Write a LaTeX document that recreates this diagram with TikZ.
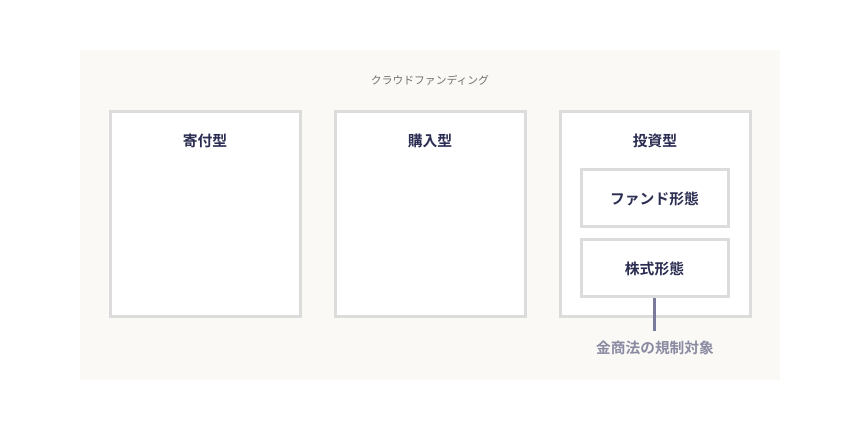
\documentclass[tikz,border=0pt]{standalone}
\usepackage{fontspec}
\newfontfamily\jp{Noto Sans CJK JP}
\newfontfamily\jpb{Noto Sans CJK JP Bold}
\definecolor{panel}{HTML}{FAF9F6}
\definecolor{boxline}{HTML}{DCDCDC}
\definecolor{navy}{HTML}{2B2D52}
\definecolor{grayt}{HTML}{707070}
\definecolor{conn}{HTML}{7A7A9A}
\definecolor{notet}{HTML}{8A8AA2}
\begin{document}
\begin{tikzpicture}[x=1pt,y=-1pt,
  outerbox/.style={draw=boxline,line width=3pt,fill=white},
  lbl/.style={font=\jpb\fontsize{14.8}{16}\selectfont,text=navy,inner sep=0pt},
]
\useasboundingbox[fill=white] (0,0) rectangle (860,430);
\fill[panel] (80,50) rectangle (780,380);
\node[font=\jp\fontsize{10.8}{12}\selectfont,text=grayt,inner sep=0pt] (title) at (430,80) {クラウドファンディング};
\draw[outerbox] (110,112) rectangle (300,317);
\draw[outerbox] (335,112) rectangle (525,317);
\draw[outerbox] (560,112) rectangle (750,317);
\node[lbl] (kifu) at (205,141) {寄付型};
\node[lbl] (konyu) at (430,141) {購入型};
\node[lbl] (toshi) at (655,141) {投資型};
\node[outerbox,minimum width=147pt,minimum height=57pt,inner sep=0pt,lbl] (fund) at (654.5,198.5) {ファンド形態};
\node[outerbox,minimum width=147pt,minimum height=57pt,inner sep=0pt,lbl] (kabu) at (654.5,268.5) {株式形態};
\coordinate (lineend) at (654.5,331);
\draw[conn,line width=3pt] (kabu.south) -- (lineend);
\node[font=\jpb\fontsize{14.7}{16}\selectfont,text=notet,inner sep=0pt] (note) at (655,348) {金商法の規制対象};
\end{tikzpicture}
\end{document}
